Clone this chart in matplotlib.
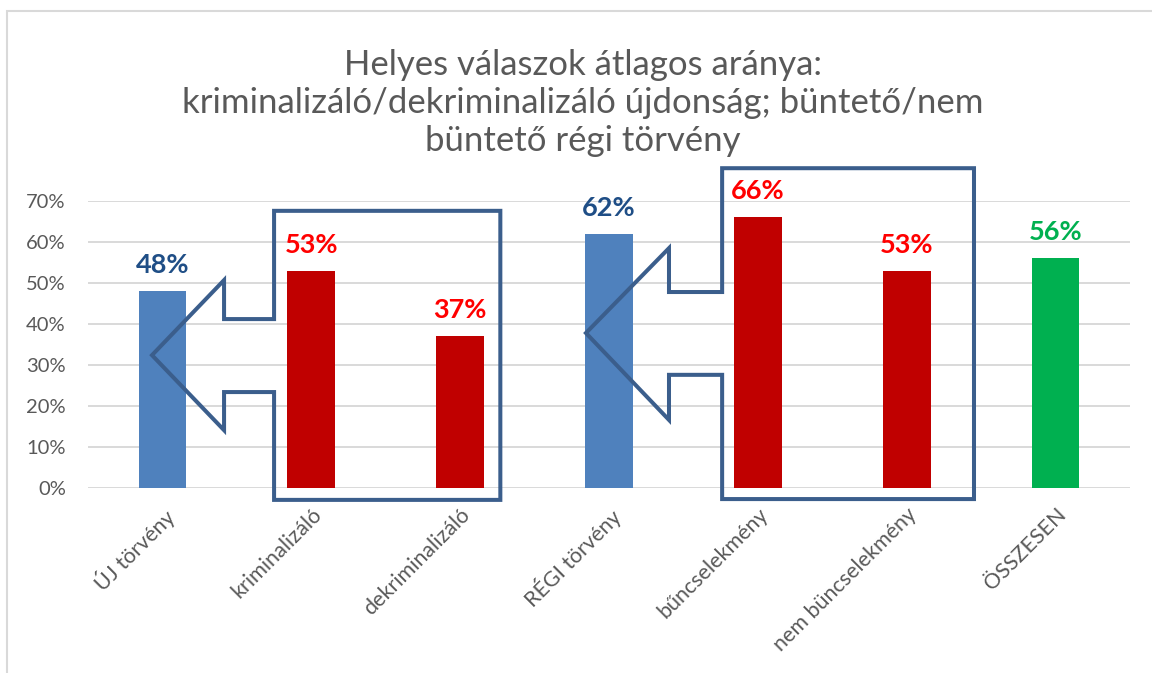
import matplotlib
matplotlib.use("Agg")
import matplotlib.pyplot as plt
from matplotlib.patches import Polygon, Rectangle
from matplotlib.ticker import PercentFormatter

# chart values
categories = ["ÚJ törvény", "kriminalizáló", "dekriminalizáló", "RÉGI törvény",
              "bűncselekmény", "nem büncselekmény", "ÖSSZESEN"]
values = [0.48, 0.53, 0.37, 0.62, 0.66, 0.53, 0.56]
bar_colors = ["#4F81BD", "#C00000", "#C00000", "#4F81BD", "#C00000", "#C00000", "#00B050"]
label_colors = ["#1F4E86", "#FF0000", "#FF0000", "#1F4E86", "#FF0000", "#FF0000", "#00B050"]
yticks = [0, 0.1, 0.2, 0.3, 0.4, 0.5, 0.6, 0.7]

title = ("Helyes válaszok átlagos aránya:\n"
         "kriminalizáló/dekriminalizáló újdonság; büntető/nem\n"
         "büntető régi törvény")

# callout outlines (left-arrow callouts), in data units
def callout(left, right, top, bottom, neck_top, neck_bot, neck_left, head_top, head_bot, tip_x, tip_y):
  return [(left, top), (right, top), (right, bottom), (left, bottom),
          (left, neck_bot), (neck_left, neck_bot), (neck_left, head_bot),
          (tip_x, tip_y), (neck_left, head_top), (neck_left, neck_top),
          (left, neck_top)]

callout_new = callout(0.75, 2.27, 0.676, -0.029, 0.412, 0.234, 0.414, 0.507, 0.141, -0.07, 0.324)
callout_old = callout(3.76, 5.452, 0.780, -0.027, 0.478, 0.276, 3.403, 0.585, 0.166, 2.845, 0.378)

plt.rcParams['font.family'] = ['Lato', 'DejaVu Sans']

fig = plt.figure(figsize=(11.52, 6.73), dpi=100)
ax = fig.add_axes([88/1152, 1 - 488/673, (1130 - 88)/1152, (488 - 201)/673])

x = list(range(len(categories)))
ax.bar(x, values, width=0.32, color=bar_colors, zorder=2)

for xi, v, c in zip(x, values, label_colors):
  ax.annotate(f"{v*100:.0f}%", (xi, v), xytext=(0, 13), textcoords="offset points",
              ha="center", va="baseline", fontsize=19.5, fontweight="bold", color=c, zorder=4)

for pts in (callout_new, callout_old):
  ax.add_patch(Polygon(pts, closed=True, fill=False, edgecolor="#3B5E8C",
                       linewidth=2.9, joinstyle="miter", clip_on=False, zorder=3))

ax.set_xlim(-0.5, 6.5)
ax.set_ylim(0, 0.7)
ax.set_yticks(yticks)
ax.yaxis.set_major_formatter(PercentFormatter(1.0, decimals=0))
ax.grid(axis="y", color="#D9D9D9", linewidth=1.4, zorder=0)
ax.set_axisbelow(True)
for s in ax.spines.values():
  s.set_visible(False)

ax.set_xticks(x)
ax.set_xticklabels(categories, rotation=45, ha="right", va="top", rotation_mode="anchor")
ax.tick_params(axis="x", length=0, pad=12, labelsize=15.5, labelcolor="#595959")
ax.tick_params(axis="y", length=0, pad=16, labelsize=14.5, labelcolor="#595959")

fig.text(0.506, 1 - 103/673, title, ha="center", va="center", fontsize=25,
         color="#595959", linespacing=1.24)

# light chart-area frame
fig.patches.append(Rectangle((7/1152, -0.1), 2, 1 - 11/673 + 0.1, transform=fig.transFigure,
                             fill=False, edgecolor="#D9D9D9", linewidth=1.5))

fig.savefig("out.png", dpi=100, facecolor="white")
